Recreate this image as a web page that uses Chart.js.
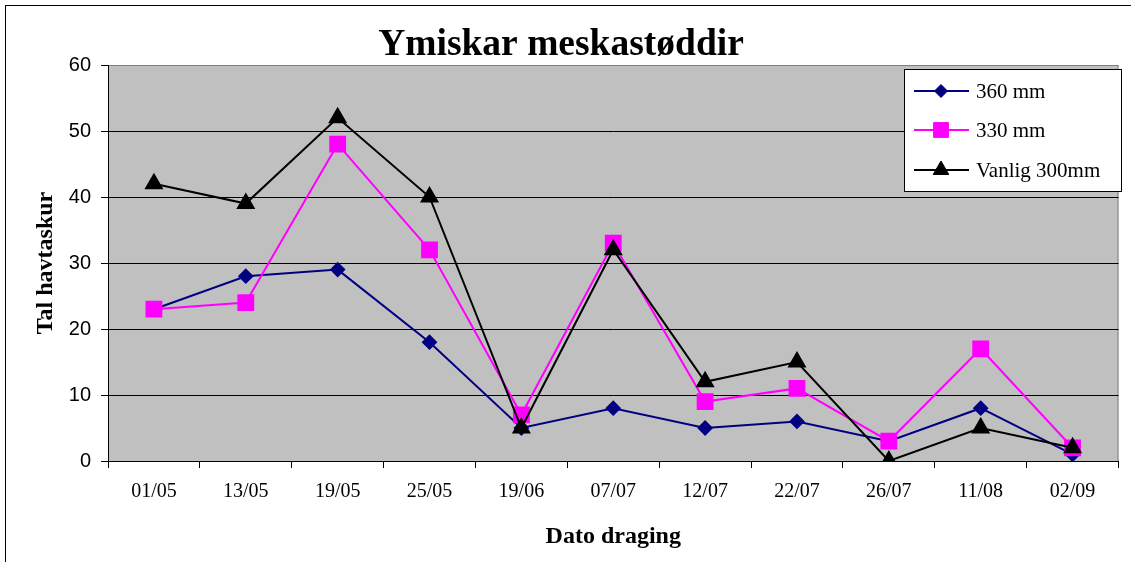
<!DOCTYPE html>
<html>
<head>
<meta charset="utf-8">
<script src="https://cdn.jsdelivr.net/npm/chart.js@4.4.0/dist/chart.umd.min.js"></script>
<style>
  html, body { margin: 0; padding: 0; background: #fff; }
  #wrap { width: 1131px; height: 562px; }
</style>
</head>
<body>
<div id="wrap"><canvas id="c" width="1131" height="562"></canvas></div>
<script>
const categories = ['01/05', '13/05', '19/05', '25/05', '19/06', '07/07', '12/07', '22/07', '26/07', '11/08', '02/09'];
const series360 = [23, 28, 29, 18, 5, 8, 5, 6, 3, 8, 1];
const series330 = [23, 24, 48, 32, 7, 33, 9, 11, 3, 17, 2];
const seriesVanlig = [42, 39, 52, 40, 5, 32, 12, 15, 0, 5, 2];
const yTicks = [0, 10, 20, 30, 40, 50, 60];
const seriesLabels = ['360 mm', '330 mm', 'Vanlig 300mm'];

const SERIF = "'Liberation Serif', 'Times New Roman', serif";
const SANS = "'Liberation Sans', Arial, sans-serif";

const bgPlugin = {
  id: 'bgPlugin',
  beforeDraw(chart) {
    const { ctx, chartArea: a } = chart;
    ctx.save();
    ctx.fillStyle = '#ffffff';
    ctx.fillRect(0, 0, chart.width, chart.height);
    ctx.strokeStyle = '#000';
    ctx.lineWidth = 1;
    ctx.strokeRect(5.5, 5.5, 1200, 600);
    ctx.fillStyle = '#C0C0C0';
    ctx.fillRect(a.left, a.top, a.right - a.left, a.bottom - a.top);
    ctx.strokeStyle = '#808080';
    ctx.strokeRect(a.left + 0.5, a.top + 0.5, a.right - a.left - 1, a.bottom - a.top);
    ctx.restore();
  }
};

const legendPlugin = {
  id: 'boxLegend',
  afterDraw(chart) {
    const { ctx } = chart;
    const bx = 904.5, by = 69.5, bw = 217, bh = 122;
    ctx.save();
    ctx.fillStyle = '#fff';
    ctx.fillRect(bx, by, bw, bh);
    ctx.strokeStyle = '#000';
    ctx.lineWidth = 1;
    ctx.strokeRect(bx, by, bw, bh);
    const rows = [91, 130, 170];
    chart.data.datasets.forEach((ds, i) => {
      const y = rows[i];
      ctx.strokeStyle = ds.borderColor;
      ctx.lineWidth = 2;
      ctx.beginPath();
      ctx.moveTo(914, y);
      ctx.lineTo(969, y);
      ctx.stroke();
      ctx.fillStyle = ds.pointBackgroundColor;
      ctx.strokeStyle = ds.pointBorderColor;
      ctx.lineWidth = 1;
      Chart.helpers.drawPoint(ctx, {
        pointStyle: ds.pointStyle,
        radius: ds.pointRadius,
        borderWidth: 1,
        rotation: 0
      }, 941, y);
      ctx.fillStyle = '#000';
      ctx.font = "21px " + SERIF;
      ctx.textBaseline = 'middle';
      ctx.textAlign = 'left';
      ctx.fillText(ds.label, 976, y + 1);
    });
    ctx.restore();
  }
};

new Chart(document.getElementById('c'), {
  type: 'line',
  data: {
    labels: categories,
    datasets: [
      {
        label: seriesLabels[0], data: series360,
        borderColor: '#000080', backgroundColor: '#000080',
        pointBackgroundColor: '#000080', pointBorderColor: '#000080',
        pointStyle: 'rectRot', pointRadius: 6.5, borderWidth: 2, order: 2
      },
      {
        label: seriesLabels[1], data: series330,
        borderColor: '#FF00FF', backgroundColor: '#FF00FF',
        pointBackgroundColor: '#FF00FF', pointBorderColor: '#FF00FF',
        pointStyle: 'rect', pointRadius: 10.5, borderWidth: 2, order: 1
      },
      {
        label: seriesLabels[2], data: seriesVanlig,
        borderColor: '#000000', backgroundColor: '#000000',
        pointBackgroundColor: '#000000', pointBorderColor: '#000000',
        pointStyle: 'triangle', pointRadius: 9, borderWidth: 2, order: 0
      }
    ]
  },
  options: {
    responsive: false,
    animation: false,
    layout: { padding: { left: 0, right: 9, top: 0, bottom: 0 } },
    plugins: {
      legend: { display: false },
      tooltip: { enabled: false },
      title: {
        display: true,
        text: 'Ymiskar meskastøddir',
        color: '#000',
        font: { family: SERIF, size: 37.5, weight: 'bold', lineHeight: 1 },
        padding: { top: 27, bottom: 0.5 }
      }
    },
    elements: { line: { tension: 0 } },
    scales: {
      x: {
        offset: true,
        grid: { offset: true, drawOnChartArea: false, drawTicks: true, tickLength: 7, color: '#000', tickColor: '#000' },
        border: { color: '#000', width: 1 },
        ticks: { color: '#000', font: { family: SERIF, size: 20 }, padding: 12, maxRotation: 0, autoSkip: false },
        title: {
          display: true, text: 'Dato draging', color: '#000',
          font: { family: SERIF, size: 24, weight: 'bold' },
          padding: { top: 0, bottom: 11 }
        },
        afterFit(s) { s.height = 101; }
      },
      y: {
        min: 0, max: 60,
        afterBuildTicks(s) { s.ticks = yTicks.map(v => ({ value: v })); },
        grid: {
          color: (c) => (c.tick && c.tick.value === 60) ? '#808080' : '#000',
          tickColor: '#000', tickLength: 7, drawTicks: true
        },
        border: { color: '#000', width: 1 },
        ticks: { color: '#000', font: { family: SANS, size: 20 }, padding: 10 },
        title: {
          display: true, text: 'Tal havtaskur', color: '#000',
          font: { family: SERIF, size: 24, weight: 'bold' },
          padding: { top: 31, bottom: 0 }
        },
        afterFit(s) { s.width = 108; }
      }
    }
  },
  plugins: [bgPlugin, legendPlugin]
});
</script>
</body>
</html>
